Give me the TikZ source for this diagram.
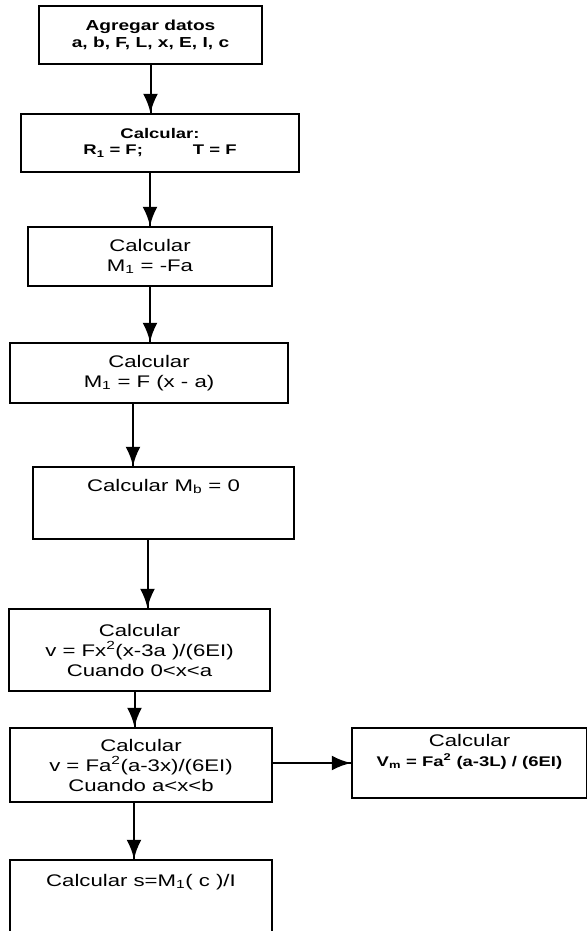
\documentclass[tikz,border=0pt]{standalone}
\usepackage{fontspec}
\setmainfont{Liberation Sans}[FakeStretch=1.32]
\usepackage{tikz}
\usetikzlibrary{arrows,decorations.markings}
\tikzstyle {proc box} = [rectangle, draw, line width=1.6pt, align=center, inner sep=0pt, font=\fontsize{16.8}{20}\selectfont]
\tikzset{edge/.style = {line width=2pt, decoration={markings,mark=at position 1 with %
            {\arrow[scale=2.2,>=latex]{>}}},postaction={decorate}}}

\begin{document}
\begin{tikzpicture}[x=1pt, y=-1pt]
            \useasboundingbox (0, 0) rectangle (586, 931);
            \node[proc box, minimum width=223, minimum height=58, font=\fontsize{14.5}{16.5}\selectfont\bfseries] (p1) at (150.5, 35) {Agregar datos\\a, b, F, L, x, E, I, c};
            \node[proc box, minimum width=278, minimum height=58, font=\fontsize{14}{16}\selectfont\bfseries] (p2) at (160, 143) {Calcular:\\R\textsubscript{1} = F;\hspace{50pt}T = F};
            \node[proc box, minimum width=244, minimum height=59] (p3) at (150, 256.5) {Calcular\\M\textsubscript{1} = -Fa};
            \node[proc box, minimum width=278, minimum height=60] (p4) at (149, 373) {Calcular\\M\textsubscript{1} = F (x - a)};
            \node[proc box, minimum width=261, text height=24, text depth=48] (p5) at (163.5, 503) {Calcular M\textsubscript{b} = 0};
            \node[proc box, minimum width=261, minimum height=82] (p6) at (139.5, 650) {Calcular\\v = Fx\textsuperscript{2}(x-3a )/(6EI)\\Cuando 0<x<a};
            \node[proc box, minimum width=262, minimum height=74] (p7) at (141, 765) {Calcular\\v = Fa\textsuperscript{2}(a-3x)/(6EI)\\Cuando a<x<b};
            \node[proc box, minimum width=262, text height=26, text depth=48] (p8) at (141, 897) {Calcular s=M\textsubscript{1}( c )/I};
            \node[proc box, minimum width=235, minimum height=70] (p9) at (469.5, 763) {Calcular\\{\fontsize{14}{16}\selectfont\bfseries V\textsubscript{m} = Fa\textsuperscript{2} (a-3L) / (6EI)}\\[6pt]};
            \draw[edge] (p1.south) -- (p1.south |- p2.north);
            \draw[edge] (p3.north |- p2.south) -- (p3.north);
            \draw[edge] (p3.south) -- (p3.south |- p4.north);
            \draw[edge] ([xshift=-16]p4.south) -- ([xshift=-16]p4.south |- p5.north);
            \draw[edge] ([xshift=-16]p5.south) -- ([xshift=-16]p5.south |- p6.north);
            \draw[edge] ([xshift=-5]p6.south) -- ([xshift=-5]p6.south |- p7.north);
            \draw[edge] ([xshift=-7]p7.south) -- ([xshift=-7]p7.south |- p8.north);
            \draw[edge] (p7.east |- p9.west) -- (p9.west);
        \end{tikzpicture}
\end{document}
